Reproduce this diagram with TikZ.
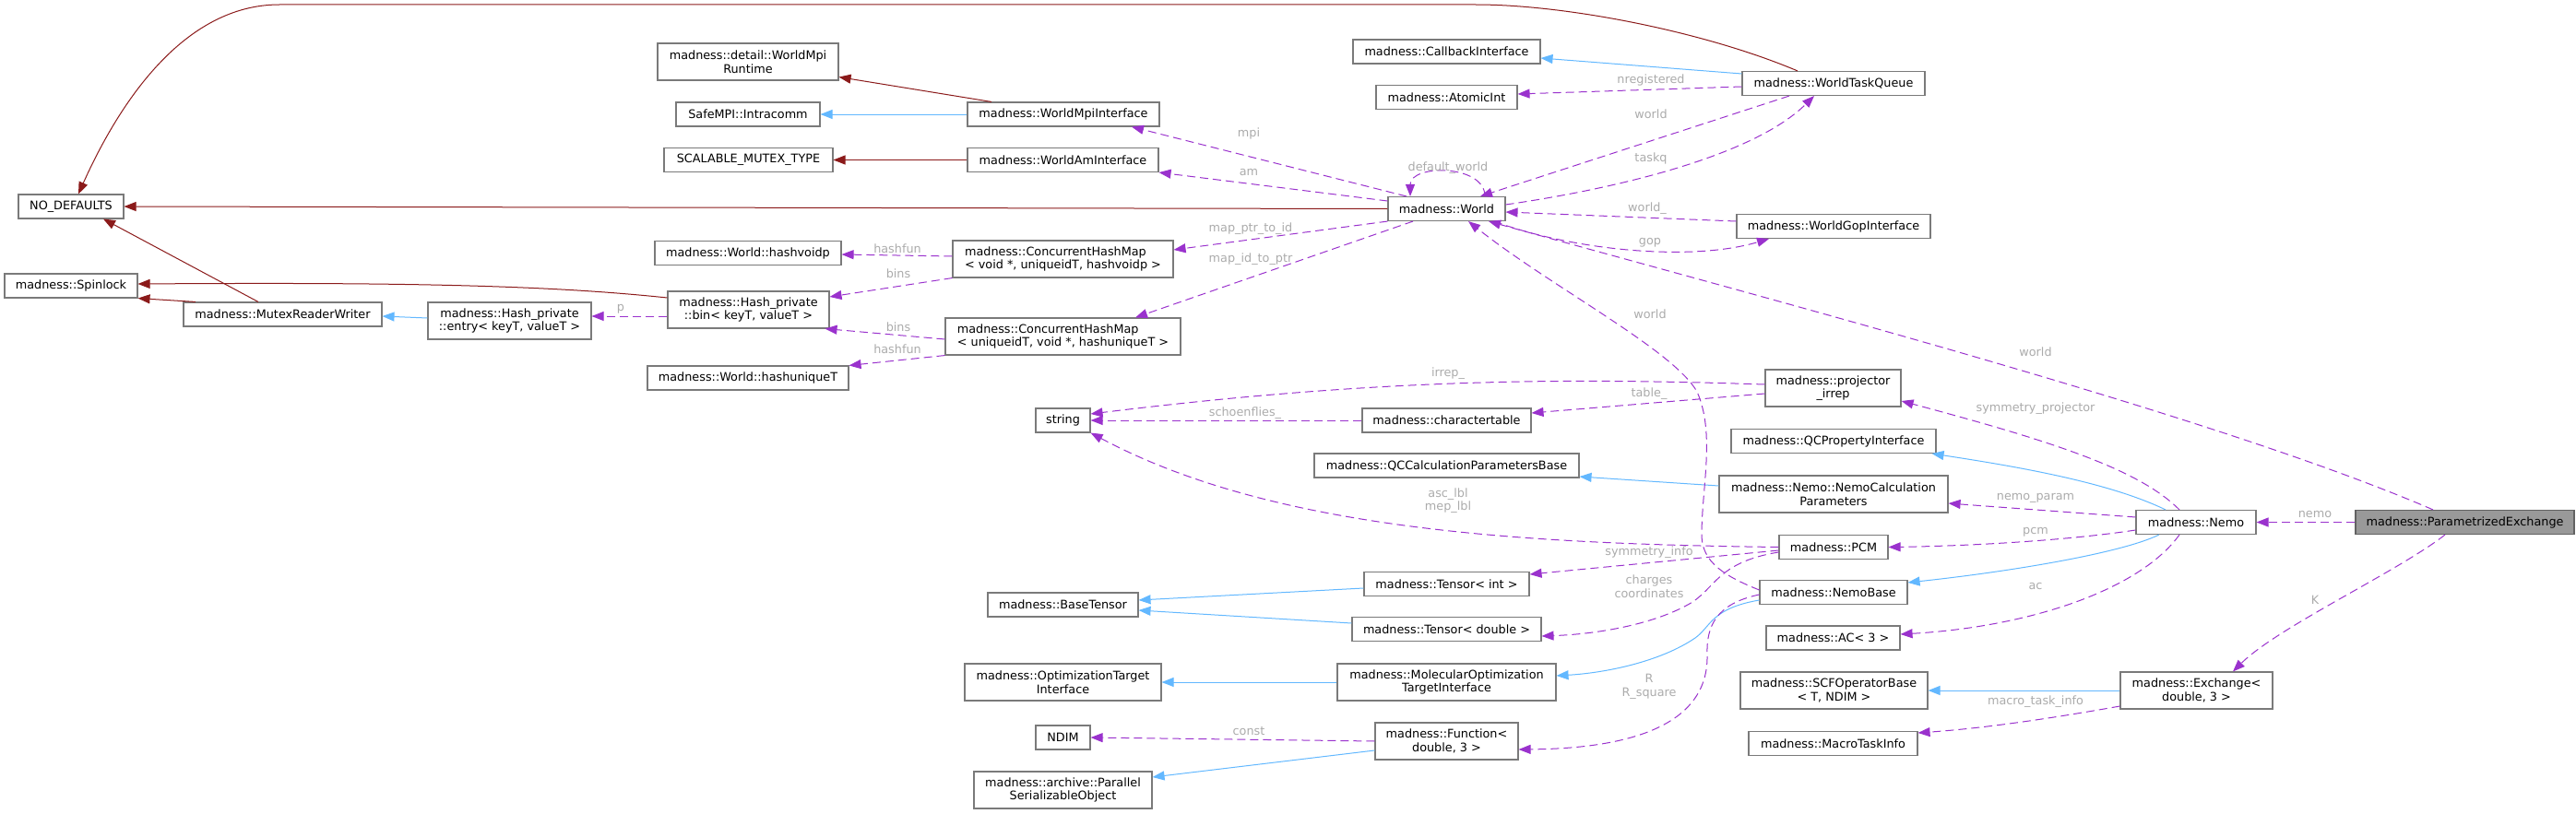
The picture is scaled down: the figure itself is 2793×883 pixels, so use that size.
\documentclass[tikz,border=0pt]{standalone}
\usepackage{fontspec}
\setmainfont{DejaVu Sans}
\usetikzlibrary{arrows.meta}
\definecolor{inhred}{HTML}{8B1A1A}
\definecolor{inhblue}{HTML}{63B8FF}
\definecolor{usepurple}{HTML}{9A32CD}
\definecolor{lblgray}{HTML}{ABABAB}
\definecolor{boxgray}{HTML}{7A7A7A}
\definecolor{pefill}{HTML}{999999}
\begin{document}
\begin{tikzpicture}[x=1pt,y=-1pt,
  font=\fontsize{12.8}{14.5}\selectfont,
  box/.style={draw=boxgray, line width=1.1pt, fill=white, inner xsep=4pt, inner ysep=2pt, minimum height=26pt, text=black},
  box2/.style={box, minimum height=40pt, align=center},
  lbl/.style={text=lblgray, inner sep=0pt, align=center},
  tipstyle/.style={-{Triangle[length=13pt,width=10pt]}},
  inhedge/.style={draw=inhred, line width=1pt, tipstyle},
  pubedge/.style={draw=inhblue, line width=1pt, tipstyle},
  usedge/.style={draw=usepurple, line width=1pt, dash pattern=on 9pt off 5pt, tipstyle}]
\useasboundingbox (0,0) rectangle (2793,883);

% nodes
\node[box, minimum width=114pt] (nodef) at (77,224) {NO\_DEFAULTS};
\node[box, minimum width=144pt] (spin) at (77,310) {madness::Spinlock};
\node[box, minimum width=215pt] (mrw) at (306.5,341) {madness::MutexReaderWriter};
\node[box2, minimum width=177pt] (entry) at (552.5,348) {madness::Hash\_private\\::entry< keyT, valueT >};
\node[box2, minimum width=196pt] (mpirt) at (811,67) {madness::detail::WorldMpi\\Runtime};
\node[box, minimum width=156pt] (intra) at (811,124) {SafeMPI::Intracomm};
\node[box, minimum width=183pt] (smt) at (811.5,173.5) {SCALABLE\_MUTEX\_TYPE};
\node[box, minimum width=202pt] (hvoid) at (811,274.5) {madness::World::hashvoidp};
\node[box2, minimum width=175pt] (bin) at (811.5,336) {madness::Hash\_private\\::bin< keyT, valueT >};
\node[box, minimum width=218pt] (huniq) at (811,410) {madness::World::hashuniqueT};
\node[box, minimum width=208pt] (mpii) at (1153,124) {madness::WorldMpiInterface};
\node[box, minimum width=207pt] (ami) at (1152.5,173.5) {madness::WorldAmInterface};
\node[box2, align=left, minimum width=239pt] (chm1) at (1152.5,281) {madness::ConcurrentHashMap\\< void *, uniqueidT, hashvoidp >};
\node[box2, align=left, minimum width=255pt] (chm2) at (1152.5,365) {madness::ConcurrentHashMap\\< uniqueidT, void *, hashuniqueT >};
\node[box, minimum width=59pt] (string) at (1152.5,456) {string};
\node[box, minimum width=163pt] (btensor) at (1152.5,656) {madness::BaseTensor};
\node[box2, minimum width=213pt] (oti) at (1152.5,740) {madness::OptimizationTarget\\Interface};
\node[box, minimum width=59pt] (ndim) at (1152.5,800) {NDIM};
\node[box2, minimum width=193pt] (pso) at (1152.5,857) {madness::archive::Parallel\\SerializableObject};
\node[box, minimum width=203pt] (cbi) at (1568.5,56) {madness::CallbackInterface};
\node[box, minimum width=153pt] (atomic) at (1568.5,105.5) {madness::AtomicInt};
\node[box, minimum width=127pt] (world) at (1568.5,226.5) {madness::World};
\node[box, minimum width=183pt] (ctable) at (1568.5,456) {madness::charactertable};
\node[box, minimum width=287pt] (qccpb) at (1568.5,505) {madness::QCCalculationParametersBase};
\node[box, minimum width=179pt] (tint) at (1568.5,633.5) {madness::Tensor< int >};
\node[box, minimum width=205pt] (tdouble) at (1568.5,682.5) {madness::Tensor< double >};
\node[box2, minimum width=237pt] (moti) at (1568.5,740) {madness::MolecularOptimization\\TargetInterface};
\node[box2, minimum width=155pt] (func) at (1568.5,804) {madness::Function<\\double, 3 >};
\node[box, minimum width=198pt] (wtq) at (1988,90.5) {madness::WorldTaskQueue};
\node[box, minimum width=210pt] (wgi) at (1988,245.5) {madness::WorldGopInterface};
\node[box2, minimum width=147pt] (proj) at (1987.5,421) {madness::projector\\\_irrep};
\node[box, minimum width=222pt] (qcpi) at (1988,478.5) {madness::QCPropertyInterface};
\node[box2, minimum width=248pt] (ncp) at (1988,536) {madness::Nemo::NemoCalculation\\Parameters};
\node[box, minimum width=118pt] (pcm) at (1988,593.5) {madness::PCM};
\node[box, minimum width=160pt] (nbase) at (1988,642.5) {madness::NemoBase};
\node[box, minimum width=145pt] (ac) at (1987.5,692) {madness::AC< 3 >};
\node[box2, minimum width=203pt] (scfob) at (1988.5,749) {madness::SCFOperatorBase\\< T, NDIM >};
\node[box, minimum width=183pt] (mti) at (1987.5,806.5) {madness::MacroTaskInfo};
\node[box, minimum width=130pt] (nemo) at (2381,566.5) {madness::Nemo};
\node[box2, minimum width=165pt] (exch) at (2381.5,749) {madness::Exchange<\\double, 3 >};
\node[box, fill=pefill, draw=boxgray!80!black, minimum width=237pt] (pe) at (2672.5,566.5) {madness::ParametrizedExchange};

% private / protected inheritance (red)
\draw[inhedge] ([xshift=-39pt]wtq.north) .. controls (1850,35) and (1700,5) .. (1600,5) -- (303,5) .. controls (200,5) and (130,110) .. ([xshift=8pt]nodef.north);
\draw[inhedge] (world.west) -- (nodef.east);
\draw[inhedge] ([xshift=-26.5pt]mrw.north) -- ([xshift=35pt]nodef.south);
\draw[inhedge] ([xshift=-94.5pt]mrw.north) -- (spin.south east);
\draw[inhedge] ([yshift=13pt]bin.west) .. controls (600,310) and (450,306) .. ([yshift=2pt]spin.east);
\draw[inhedge] ([xshift=-78pt]mpii.north) -- ([yshift=4pt]mpirt.south east);
\draw[inhedge] (ami.west) -- (smt.east);

% public inheritance (blue)
\draw[pubedge] (mpii.west) -- (intra.east);
\draw[pubedge] ([yshift=3pt]entry.west) -- ([yshift=-2pt]mrw.east);
\draw[pubedge] ([yshift=10.5pt]wtq.west) -- ([yshift=-7pt]cbi.east);
\draw[pubedge] ([yshift=-4.5pt]tint.west) -- ([yshift=5pt]btensor.east);
\draw[pubedge] ([yshift=6.5pt]tdouble.west) -- ([yshift=-6pt]btensor.east);
\draw[pubedge] (moti.west) -- (oti.east);
\draw[pubedge] ([yshift=-10pt]func.west) -- ([yshift=14pt]pso.east);
\draw[pubedge] ([yshift=9pt]ncp.west) -- ([yshift=-12pt]qccpb.east);
\draw[pubedge] ([xshift=-33pt]nemo.north) .. controls (2290,525) and (2200,508) .. ([xshift=-5pt]qcpi.south east);
\draw[pubedge] ([xshift=-40pt]nemo.south) .. controls (2300,600) and (2180,620) .. ([yshift=-3pt]nbase.north east);
\draw[pubedge] ([yshift=-8.5pt]nbase.west) .. controls (1855,660) and (1855,680) .. (1838,692) .. controls (1800,718) and (1740,730) .. ([yshift=7pt]moti.east);
\draw[pubedge] (exch.west) -- (scfob.east);

% usage (purple dashed)
\draw[usedge] ([xshift=-43.5pt]world.north) -- ([xshift=74pt]mpii.south);
\draw[usedge] ([yshift=8.5pt]world.west) -- (ami.south east);
\draw[usedge] (world.south west) -- ([yshift=10pt]chm1.east);
\draw[usedge] ([xshift=-36.5pt]world.south) -- ([xshift=78.5pt]chm2.north);
\draw[usedge] ([yshift=3pt]chm1.west) -- ([yshift=-1.5pt]hvoid.east);
\draw[usedge] (chm1.south west) -- ([yshift=14pt]bin.east);
\draw[usedge] ([yshift=-3pt]chm2.west) -- ([xshift=-5pt]bin.south east);
\draw[usedge] (chm2.south west) -- (huniq.north east);
\draw[usedge] ([yshift=-7pt]bin.west) -- ([yshift=5pt]entry.east);
\draw[usedge] ([yshift=-3.5pt]wtq.west) -- ([yshift=3.5pt]atomic.east);
\draw[usedge] ([xshift=-48pt]wtq.south) -- ([xshift=36.5pt]world.north);
\draw[usedge] ([yshift=4.5pt]world.east) .. controls (1750,205) and (1900,170) .. ([xshift=-21pt]wtq.south);
\draw[usedge] ([xshift=41.5pt]world.north) .. controls +(0,-35) and +(0,-35) .. ([xshift=-39.5pt]world.north);
\draw[usedge] ([yshift=5.5pt]wgi.west) -- ([yshift=-3.5pt]world.east);
\draw[usedge] ([xshift=51.5pt]world.south) .. controls (1700,270) and (1830,285) .. ([xshift=-70pt]wgi.south);
\draw[usedge] ([xshift=-34.5pt]pe.north) .. controls (2400,450) and (1900,320) .. ([xshift=45.5pt]world.south);
\draw[usedge] ([yshift=2.5pt]nbase.west) .. controls (1870,625) and (1845,610) .. (1845,580) .. controls (1845,530) and (1860,470) .. (1840,425) .. controls (1815,380) and (1680,310) .. ([xshift=23.5pt]world.south);
\draw[usedge] ([yshift=4pt]proj.west) .. controls (1700,410) and (1500,410) .. ([yshift=7pt]string.east);
\draw[usedge] ([yshift=-6pt]proj.west) -- ([yshift=8pt]ctable.east);
\draw[usedge] (ctable.west) -- (string.east);
\draw[usedge] (pcm.west) .. controls (1650,590) and (1380,575) .. (string.south east);
\draw[usedge] ([yshift=-3.5pt]pcm.west) -- ([yshift=10.5pt]tint.east);
\draw[usedge] ([yshift=-5.5pt]pcm.west) .. controls (1860,610) and (1860,640) .. (1830,656) .. controls (1790,678) and (1730,688) .. ([yshift=-7.5pt]tdouble.east);
\draw[usedge] ([yshift=-2.5pt]nbase.west) .. controls (1860,655) and (1850,680) .. (1851,710) .. controls (1853,790) and (1760,812) .. ([yshift=-9pt]func.east);
\draw[usedge] ([xshift=-18pt]nemo.north) .. controls (2320,510) and (2230,480) .. ([yshift=-14pt]proj.east);
\draw[usedge] ([yshift=5.5pt]nemo.west) -- ([yshift=-10pt]ncp.east);
\draw[usedge] ([yshift=-8.5pt]nemo.west) .. controls (2250,585) and (2150,592) .. (pcm.east);
\draw[usedge] ([xshift=-18pt]nemo.south) .. controls (2320,640) and (2200,680) .. ([yshift=4pt]ac.east);
\draw[usedge] (pe.west) -- (nemo.east);
\draw[usedge] ([xshift=-21.5pt]pe.south) .. controls (2600,620) and (2470,680) .. ([xshift=39.5pt]exch.north);
\draw[usedge] ([yshift=-17pt]exch.west) .. controls (2220,780) and (2150,790) .. ([yshift=11.5pt]mti.east);
\draw[usedge] (func.west) -- (ndim.east);

% edge labels
\node[lbl] (l1) at (1354,145) {mpi};
\node[lbl] (l2) at (1354,187) {am};
\node[lbl] (l3) at (1356,248) {map\_ptr\_to\_id};
\node[lbl] (l4) at (1356,281) {map\_id\_to\_ptr};
\node[lbl] (l5) at (973,270) {hashfun};
\node[lbl] (l6) at (974,297) {bins};
\node[lbl] (l7) at (974,355) {bins};
\node[lbl] (l8) at (973,379) {hashfun};
\node[lbl] (l9) at (673,335) {p};
\node[lbl] (l10) at (1790,87) {nregistered};
\node[lbl] (l11) at (1790,124) {world};
\node[lbl] (l12) at (1790,172) {taskq};
\node[lbl] (l13) at (1570,182) {default\_world};
\node[lbl] (l14) at (1786,226) {world\_};
\node[lbl] (l15) at (1789,263) {gop};
\node[lbl] (l16) at (1789,341) {world};
\node[lbl] (l17) at (2207,382) {world};
\node[lbl] (l18) at (1570,405) {irrep\_};
\node[lbl] (l19) at (1788,427) {table\_};
\node[lbl] (l20) at (1350,448) {schoenflies\_};
\node[lbl] (l21) at (1570,543) {asc\_lbl\\mep\_lbl};
\node[lbl] (l22) at (1788,599) {symmetry\_info};
\node[lbl] (l23) at (1788,636) {charges\\coordinates};
\node[lbl] (l24) at (1788,745) {R\\R\_square};
\node[lbl] (l25) at (2207,443) {symmetry\_projector};
\node[lbl] (l26) at (2207,540) {nemo\_param};
\node[lbl] (l27) at (2207,577) {pcm};
\node[lbl] (l28) at (2207,636) {ac};
\node[lbl] (l29) at (2510,558) {nemo};
\node[lbl] (l30) at (2510,651) {K};
\node[lbl] (l31) at (2207,761) {macro\_task\_info};
\node[lbl] (l32) at (1354,793) {const};
\end{tikzpicture}
\end{document}
